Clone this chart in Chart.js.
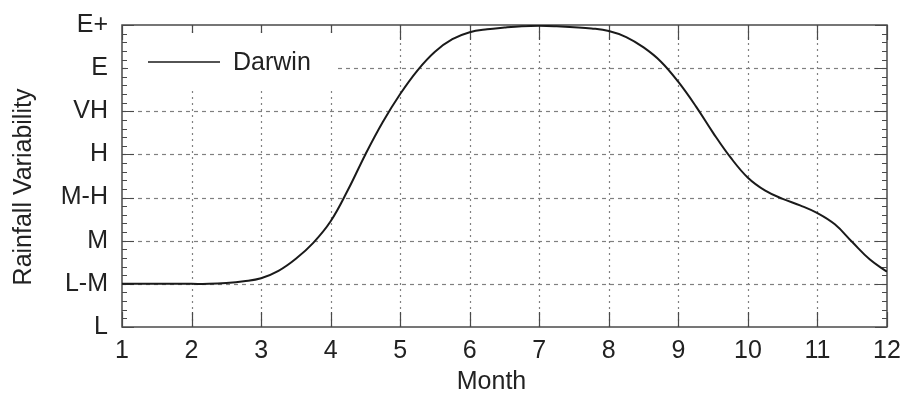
<!DOCTYPE html>
<html>
<head>
<meta charset="utf-8">
<title>Darwin rainfall variability</title>
<script src="https://cdn.jsdelivr.net/npm/chart.js@4/dist/chart.umd.min.js"></script>
<style>
  html, body { margin: 0; padding: 0; background: #fff; }
  canvas { display: block; }
</style>
</head>
<body>
<canvas id="chart" width="903" height="397"></canvas>
<script>
// Rainfall variability class for Darwin through the year
const levelLabels = ['L', 'L-M', 'M', 'M-H', 'H', 'VH', 'E', 'E+'];
const monthTicks = [1, 2, 3, 4, 5, 6, 7, 8, 9, 10, 11, 12];
const months = [1.0, 1.25, 1.5, 1.75, 2.0, 2.25, 2.5, 2.75, 3.0, 3.25, 3.5, 3.75, 4.0, 4.25, 4.5, 4.75,
  5.0, 5.25, 5.5, 5.75, 6.0, 6.25, 6.5, 6.75, 7.0, 7.25, 7.5, 7.75, 8.0, 8.25, 8.5, 8.75, 9.0, 9.25, 9.5,
  9.75, 10.0, 10.25, 10.5, 10.75, 11.0, 11.25, 11.5, 11.75, 12.0];
const darwin = [1.0, 1.0, 1.0, 1.0, 1.0, 1.0, 1.02, 1.06, 1.13, 1.30, 1.58, 1.95, 2.45, 3.18, 4.0, 4.75,
  5.4, 5.95, 6.38, 6.67, 6.83, 6.90, 6.94, 6.97, 6.98, 6.97, 6.95, 6.92, 6.86, 6.72, 6.48, 6.15, 5.68, 5.12, 4.50,
  3.93, 3.46, 3.16, 2.97, 2.82, 2.64, 2.38, 1.97, 1.57, 1.28];

const FONT = '"Liberation Sans", Arial, Helvetica, sans-serif';
const FSIZE = 25;
const INK = '#222';
const GRID = '#808080';
const FRAME = '#4a4a4a';

// Slightly open letter spacing for all canvas text
const spacingPlugin = {
  id: 'spacing',
  beforeInit(chart) { chart.ctx.letterSpacing = '1.2px'; }
};

// Frame, dotted grid, inward tick marks, in-axes legend and axis titles
const framePlugin = {
  id: 'frame',
  beforeDatasetsDraw(chart) {
    const { ctx, chartArea: a, scales: { x, y } } = chart;
    ctx.save();

    // grid lines
    ctx.strokeStyle = GRID;
    ctx.lineWidth = 1.2;
    ctx.setLineDash([4, 4]);
    for (let v = 1; v < levelLabels.length - 1; v++) {
      const py = Math.round(y.getPixelForValue(v)) + 0.5;
      ctx.beginPath(); ctx.moveTo(a.left, py); ctx.lineTo(a.right, py); ctx.stroke();
    }
    ctx.setLineDash([2, 4]);
    monthTicks.slice(1, -1).forEach(m => {
      const px = Math.round(x.getPixelForValue(m)) + 0.5;
      ctx.beginPath(); ctx.moveTo(px, a.top); ctx.lineTo(px, a.bottom); ctx.stroke();
    });
    ctx.setLineDash([]);

    // tick marks pointing into the plot
    ctx.strokeStyle = FRAME;
    ctx.lineWidth = 1.2;
    monthTicks.forEach(m => {
      const px = Math.round(x.getPixelForValue(m)) + 0.5;
      ctx.beginPath();
      ctx.moveTo(px, a.bottom); ctx.lineTo(px, a.bottom - 15);
      ctx.moveTo(px, a.top); ctx.lineTo(px, a.top + 15);
      ctx.stroke();
    });
    ctx.lineWidth = 1;
    for (let k = 0; k <= (levelLabels.length - 1) * 5; k++) {
      const v = k / 5;
      const len = (k % 5 === 0) ? 12 : 5;
      const py = Math.round(y.getPixelForValue(v)) + 0.5;
      ctx.beginPath();
      ctx.moveTo(a.left, py); ctx.lineTo(a.left + len, py);
      ctx.moveTo(a.right, py); ctx.lineTo(a.right - len, py);
      ctx.stroke();
    }

    // legend box inside the axes
    const lx = a.left + 6, ly = a.top + 8, lw = 207, lh = 55;
    ctx.fillStyle = '#fff';
    ctx.fillRect(lx, ly, lw, lh);
    const midY = ly + 29;
    ctx.strokeStyle = '#1a1a1a';
    ctx.lineWidth = 1.6;
    ctx.beginPath(); ctx.moveTo(lx + 20, midY); ctx.lineTo(lx + 92, midY); ctx.stroke();
    ctx.fillStyle = INK;
    ctx.font = FSIZE + 'px ' + FONT;
    ctx.textAlign = 'left';
    ctx.textBaseline = 'middle';
    ctx.fillText(chart.data.datasets[0].label, lx + 105, midY + 1);

    // frame
    ctx.strokeStyle = FRAME;
    ctx.lineWidth = 1.5;
    ctx.strokeRect(a.left, a.top, a.right - a.left, a.bottom - a.top);

    // axis titles
    ctx.fillStyle = INK;
    ctx.font = FSIZE + 'px ' + FONT;
    ctx.textAlign = 'center';
    ctx.textBaseline = 'middle';
    ctx.fillText('Month', x.getPixelForValue(6.5) - 13, a.bottom + 55);
    ctx.save();
    ctx.translate(24, (a.top + a.bottom) / 2 + 11);
    ctx.rotate(-Math.PI / 2);
    ctx.fillText('Rainfall Variability', 0, 0);
    ctx.restore();

    ctx.restore();
  }
};

new Chart(document.getElementById('chart'), {
  type: 'line',
  data: {
    datasets: [{
      label: 'Darwin',
      data: months.map((m, i) => ({ x: m, y: darwin[i] })),
      borderColor: '#1a1a1a',
      borderWidth: 2,
      pointRadius: 0,
      fill: false,
      tension: 0.4
    }]
  },
  options: {
    responsive: false,
    animation: false,
    devicePixelRatio: 1,
    layout: { padding: { top: 25, right: 16, left: 0, bottom: 0 } },
    plugins: { legend: { display: false }, tooltip: { enabled: false } },
    scales: {
      x: {
        type: 'linear',
        min: 1,
        max: 12,
        afterBuildTicks: s => { s.ticks = monthTicks.map(v => ({ value: v })); },
        ticks: { color: INK, font: { family: FONT, size: FSIZE }, padding: 9, maxRotation: 0 },
        grid: { display: false, drawTicks: false },
        border: { display: false },
        title: { display: false },
        afterFit: s => { s.height = 70; s.paddingLeft = 0; s.paddingRight = 0; }
      },
      y: {
        type: 'linear',
        min: 0,
        max: levelLabels.length - 1,
        ticks: { stepSize: 1, color: INK, font: { family: FONT, size: FSIZE }, padding: 14,
          callback: v => levelLabels[v] },
        grid: { display: false, drawTicks: false },
        border: { display: false },
        afterFit: s => { s.width = 122; s.paddingTop = 0; s.paddingBottom = 0; }
      }
    }
  },
  plugins: [spacingPlugin, framePlugin]
});
</script>
</body>
</html>
